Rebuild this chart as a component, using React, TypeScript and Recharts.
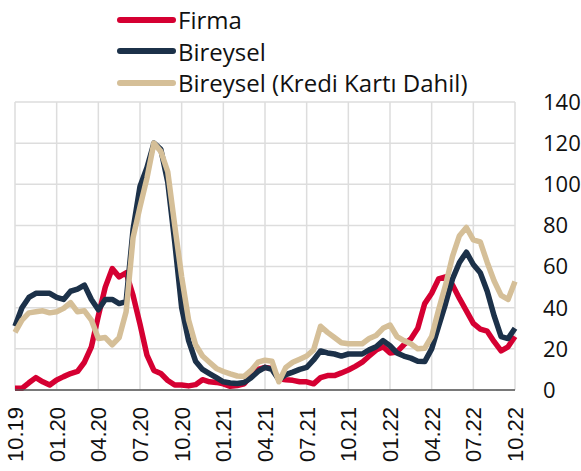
import { LineChart, Line, XAxis, YAxis, CartesianGrid, Legend } from "recharts";

// half-month steps, Oct 2019 -> Oct 2022
const tickLabels = ["10.19", "01.20", "04.20", "07.20", "10.20", "01.21", "04.21", "07.21", "10.21", "01.22", "04.22", "07.22", "10.22"];
const tickPos = [0, 6, 12, 18, 24, 30, 36, 42, 48, 54, 60, 66, 72];
const yTicks = [0, 20, 40, 60, 80, 100, 120, 140];

const firma = [
  0.8, 0.8, 3.5, 6, 4, 2.4, 4.9, 6.5, 8, 9, 13.5, 21, 36, 50, 59, 55, 57, 46, 32, 17,
  9.5, 8, 4.6, 2.4, 2.4, 2, 2.6, 5, 4, 3.7, 3, 1.8, 2.2, 3, 7, 10, 11, 10.5, 5.5, 5,
  4.7, 4, 4, 3, 6, 7, 7, 8.3, 9.7, 11.5, 13.5, 16.5, 19.4, 21, 18, 18.5, 22, 24.8, 30, 42,
  47, 54, 55, 51, 44.5, 38.5, 32.4, 29.6, 28.6, 23.5, 19, 21, 26,
];
const bireysel = [
  31, 40, 45, 47, 47, 47, 45, 44, 48, 49, 51, 44, 39, 44, 44, 42, 43, 78, 99, 108,
  120, 117, 101, 72, 40, 24, 14, 10, 8, 6, 4, 3.4, 3.2, 3.6, 6, 9, 11, 10, 5, 7.5,
  8.7, 10, 11, 14.6, 19, 18, 17.5, 16.5, 17.5, 17.5, 17.5, 19.5, 21, 24, 21.5, 18, 16.5, 15.5, 14, 13.8,
  20, 31, 42, 54, 62, 67, 61, 57, 48, 36, 26, 25, 30,
];
const krediKarti = [
  28, 34, 37.5, 38, 38.5, 37.5, 38, 39.7, 42.5, 38, 38.5, 34, 25, 25.5, 22, 25.5, 38, 74, 89, 103,
  120, 116, 106, 80, 55, 34, 22, 16.5, 13.5, 10.5, 9, 7.8, 6.8, 6.6, 9.5, 13.5, 14.5, 14, 4, 11,
  13.5, 15, 16.5, 19.5, 31, 28, 25.5, 23, 22.5, 22.5, 22.5, 25, 26.5, 30, 31.6, 26, 24, 22.5, 20, 20.3,
  26, 39, 51, 65, 75, 79, 73, 72, 62, 53, 46, 44, 52.7,
];

const data = firma.map((v, i) => ({ t: i, firma: v, bireysel: bireysel[i], kredi: krediKarti[i] }));

const series = [
  { key: "firma", name: "Firma", color: "#D50032" },
  { key: "bireysel", name: "Bireysel", color: "#1C3149" },
  { key: "kredi", name: "Bireysel (Kredi Kartı Dahil)", color: "#D5BF98" },
];

const FONT = "'Open Sans', sans-serif";

const XTick = (props: any) => {
  const { x, y, payload } = props;
  const label = tickLabels[tickPos.indexOf(payload.value)];
  return (
    <text
      transform={`translate(${x},${y + 17}) rotate(-90)`}
      textAnchor="end"
      dy="0.36em"
      fontSize={22}
      fontFamily="'Liberation Sans', Arial, sans-serif"
      fill="#111"
    >
      {label}
    </text>
  );
};

const LegendBox = () => (
  <div style={{ fontFamily: FONT, fontSize: 24, color: "#111" }}>
    {series.map((s) => (
      <div key={s.key} style={{ display: "flex", alignItems: "center", height: 31.5 }}>
        <svg width={61} height={10}>
          <line x1={3} y1={5} x2={56} y2={5} stroke={s.color} strokeWidth={6} strokeLinecap="round" />
        </svg>
        <span style={{ whiteSpace: "nowrap" }}>{s.name}</span>
      </div>
    ))}
  </div>
);

export default function App() {
  return (
    <div style={{ width: 581, height: 471, background: "#fff" }}>
      <style>{`body{margin:0}`}</style>
      <LineChart width={581} height={471} data={data} margin={{ top: 102, right: 0, bottom: 0, left: 15 }}>
        <CartesianGrid stroke="#DDDDDD" strokeWidth={1.5} />
        <XAxis
          dataKey="t"
          type="number"
          domain={[0, 72]}
          ticks={tickPos}
          interval={0}
          height={81}
          tickSize={0}
          tickMargin={0}
          tick={<XTick />}
          axisLine={{ stroke: "#555", strokeWidth: 1.5 }}
          tickLine={false}
        />
        <YAxis
          orientation="right"
          domain={[0, 140]}
          ticks={yTicks}
          interval={0}
          width={66}
          tickSize={0}
          tickMargin={28}
          axisLine={false}
          tickLine={false}
          tick={{ fontSize: 22, fontFamily: FONT, fill: "#111" }}
        />
        <Legend
          layout="vertical"
          verticalAlign="middle"
          align="center"
          content={<LegendBox />}
          wrapperStyle={{ position: "absolute", left: 117, top: 4, width: "auto" }}
        />
        {series.map((s) => (
          <Line
            key={s.key}
            type="linear"
            dataKey={s.key}
            name={s.name}
            stroke={s.color}
            strokeWidth={5.5}
            strokeLinejoin="round"
            dot={false}
            activeDot={false}
            isAnimationActive={false}
          />
        ))}
      </LineChart>
    </div>
  );
}
